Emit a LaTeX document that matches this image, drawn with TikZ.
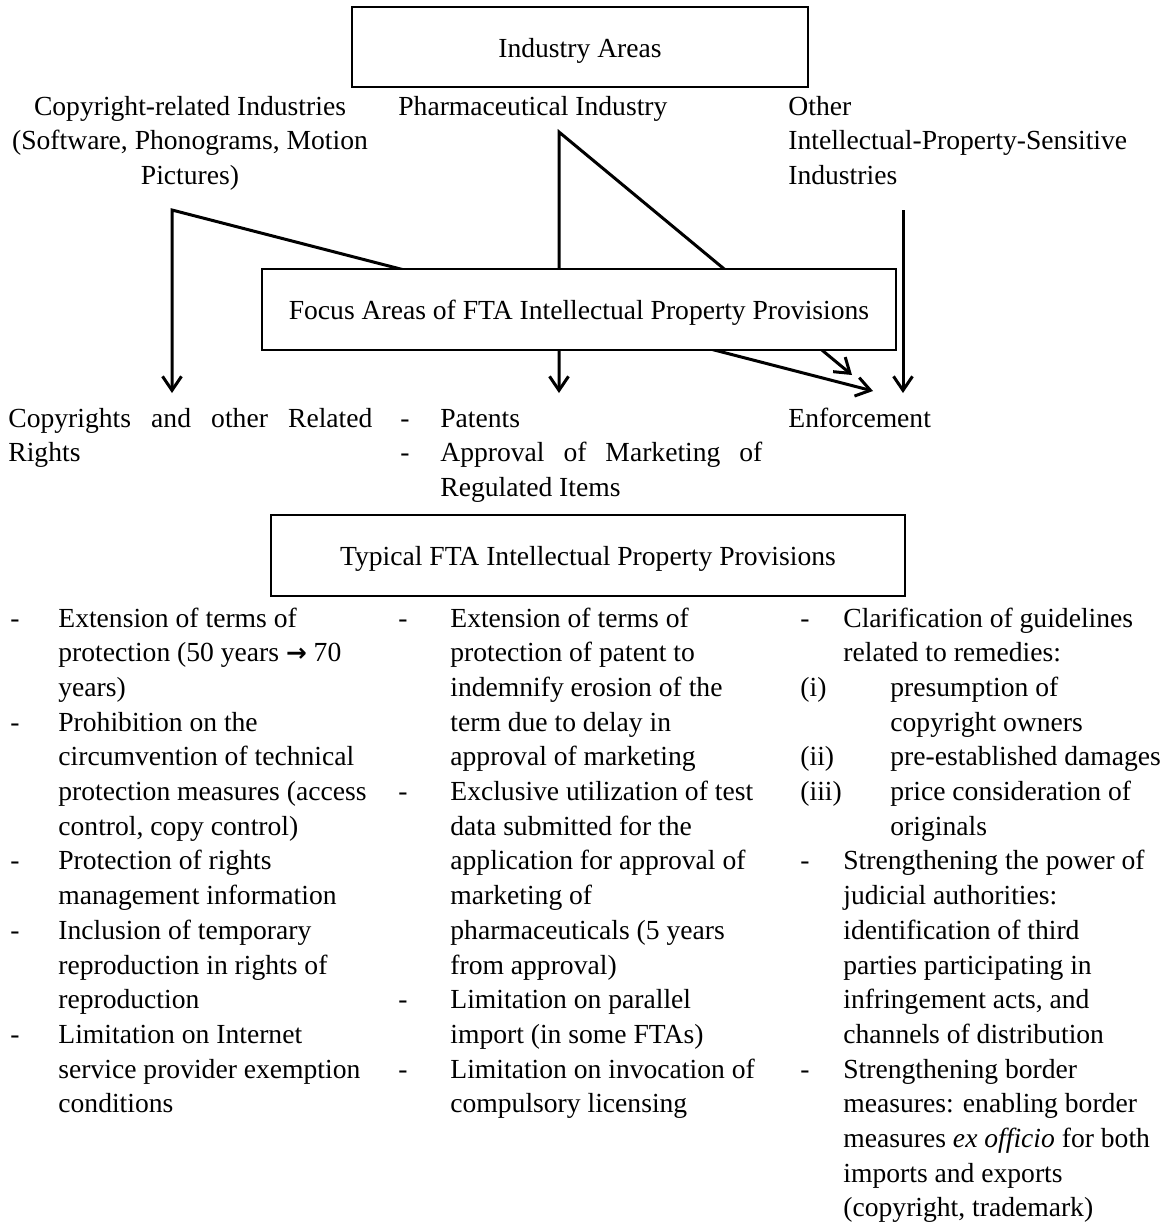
\documentclass[tikz,border=0pt]{standalone}
\usepackage{fontspec}
\setmainfont{Liberation Serif}
\newfontfamily\arrowfont{DejaVu Sans}[Scale=0.9]
\usetikzlibrary{arrows.meta,positioning}

\tikzset{
  areabox/.style={draw, line width=0.6pt, fill=white, inner sep=0pt, text height=10pt, text depth=0pt},
  flow/.style={line width=1.5pt, -{Straight Barb[length=7pt,width=9.5pt]}},
  flowtwo/.style={line width=1.5pt, {Straight Barb[length=7pt,width=9.5pt]}-{Straight Barb[length=7pt,width=9.5pt]}},
  para/.style={inner sep=0pt, anchor=base west}
}

\begin{document}
\begin{tikzpicture}[x=0.5pt,y=-0.5pt,font=\fontsize{13.8}{17.35}\selectfont]
\useasboundingbox (0,0) rectangle (1173,1222);
\node[areabox, minimum width=228pt, minimum height=40pt] (industry) at (580,47) {Industry Areas};
\node[inner sep=0pt, anchor=base] (copyind) at (190,115) {\begin{tabular}[t]{@{}c@{}}Copyright-related Industries\\(Software, Phonograms, Motion\\Pictures)\end{tabular}};
\node[para] (pharmaind) at (398,115) {Pharmaceutical Industry};
\node[para] (otherind) at (788,115) {\begin{tabular}[t]{@{}l@{}}Other\\Intellectual-Property-Sensitive\\Industries\end{tabular}};
\coordinate (cbranch) at (172,210);
\coordinate (pbranch) at (559,132);
\coordinate (obranch) at (903,210);
\coordinate (crtip) at (172,393);
\coordinate (pttip) at (559,393);
\coordinate (enftipc) at (873,391);
\coordinate (enftipp) at (852,375);
\coordinate (enftipo) at (903,393);
\draw[flowtwo] (crtip) -- (cbranch) -- (enftipc);
\draw[flowtwo] (pttip) -- (pbranch) -- (enftipp);
\draw[flow] (obranch) -- (enftipo);
\node[areabox, minimum width=317pt, minimum height=40.5pt] (focus) at (579,309.5) {Focus Areas of FTA Intellectual Property Provisions};
\node[para] (copyrights) at (8,427) {\begin{tabular}[t]{@{}l@{}}\makebox[182pt][s]{Copyrights and other Related}\\Rights\end{tabular}};
\node[para] (patents) at (400,427) {\begin{tabular}[t]{@{}p{20pt}@{}l@{}}-&Patents\\-&\makebox[161pt][s]{Approval of Marketing of}\\&Regulated Items\end{tabular}};
\node[para] (enforcement) at (788,427) {Enforcement};
\node[areabox, minimum width=317pt, minimum height=40.5pt] (typical) at (588,555.5) {Typical FTA Intellectual Property Provisions};
\node[para] (provcopy) at (10,627) {\begin{tabular}[t]{@{}p{24pt}@{}l@{}}
-&Extension of terms of\\
&protection (50 years {\arrowfont\bfseries →} 70\\
&years)\\
-&Prohibition on the\\
&circumvention of technical\\
&protection measures (access\\
&control, copy control)\\
-&Protection of rights\\
&management information\\
-&Inclusion of temporary\\
&reproduction in rights of\\
&reproduction\\
-&Limitation on Internet\\
&service provider exemption\\
&conditions
\end{tabular}};
\node[para] (provpharma) at (398,627) {\begin{tabular}[t]{@{}p{26pt}@{}l@{}}
-&Extension of terms of\\
&protection of patent to\\
&indemnify erosion of the\\
&term due to delay in\\
&approval of marketing\\
-&Exclusive utilization of test\\
&data submitted for the\\
&application for approval of\\
&marketing of\\
&pharmaceuticals (5 years\\
&from approval)\\
-&Limitation on parallel\\
&import (in some FTAs)\\
-&Limitation on invocation of\\
&compulsory licensing
\end{tabular}};
\node[para] (provenf) at (800,627) {\begin{tabular}[t]{@{}p{21.5pt}@{}l@{}}
-&Clarification of guidelines\\
&related to remedies:\\
\multicolumn{2}{@{}l@{}}{\makebox[45pt][l]{(i)}presumption of}\\
\multicolumn{2}{@{}l@{}}{\hspace{45pt}copyright owners}\\
\multicolumn{2}{@{}l@{}}{\makebox[45pt][l]{(ii)}pre-established damages}\\
\multicolumn{2}{@{}l@{}}{\makebox[45pt][l]{(iii)}price consideration of}\\
\multicolumn{2}{@{}l@{}}{\hspace{45pt}originals}\\
-&Strengthening the power of\\
&judicial authorities:\\
&identification of third\\
&parties participating in\\
&infringement acts, and\\
&channels of distribution\\
-&Strengthening border\\
&measures: enabling border\\
&measures \textit{ex officio} for both\\
&imports and exports\\
&(copyright, trademark)
\end{tabular}};
\end{tikzpicture}
\end{document}
